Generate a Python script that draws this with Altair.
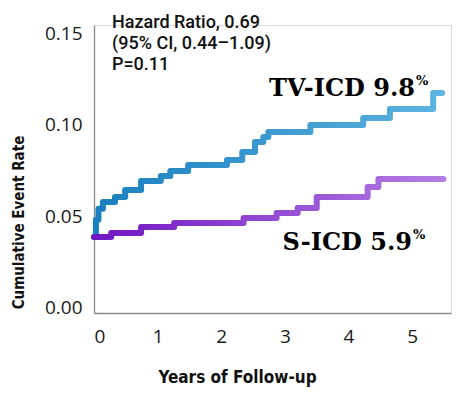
import altair as alt
import pandas as pd

# ---- data ----
tv_years = [0.0, 0.03, 0.07, 0.14, 0.33, 0.49, 0.74, 1.05, 1.20, 1.48, 2.09, 2.33, 2.53, 2.66, 2.74, 3.40, 4.23, 4.65, 5.33, 5.47]
tv_rate = [0.0386, 0.048, 0.054, 0.0577, 0.0605, 0.0643, 0.0692, 0.0720, 0.0747, 0.0780, 0.0807, 0.0851, 0.0906, 0.0933, 0.0960, 0.0999, 0.1037, 0.1086, 0.1174, 0.1174]

s_years = [0.0, 0.27, 0.74, 1.26, 2.35, 2.87, 3.20, 3.50, 4.30, 4.47, 5.49]
s_rate = [0.0386, 0.0408, 0.0441, 0.0462, 0.0490, 0.0517, 0.0545, 0.0605, 0.0660, 0.0703, 0.0703]

y_ticks = [0.0, 0.05, 0.10, 0.15]
x_ticks = [0, 1, 2, 3, 4, 5]
stats_lines = ["Hazard Ratio, 0.69", "(95% CI, 0.44\u20131.09)", "P=0.11"]
tv_label = "TV-ICD 9.8"
s_label = "S-ICD 5.9"
pct = "%"

tv_df = pd.DataFrame({"year": tv_years, "rate": tv_rate})
s_df = pd.DataFrame({"year": s_years, "rate": s_rate})

FONT_AX = "Open Sans"
FONT_T = "Liberation Sans Narrow, DejaVu Sans Condensed, Roboto"

x_scale = alt.Scale(domain=[0, 5.61], nice=False)
y_scale = alt.Scale(domain=[-0.003, 0.1546], nice=False)

x_enc = alt.X("year:Q", scale=x_scale,
              axis=alt.Axis(values=x_ticks, format="d", title="Years of Follow-up",
                            grid=False, ticks=False, domainColor="#8a8a8a", domainWidth=1.3,
                            labelFont=FONT_AX, labelFontSize=19, labelColor="#1a1a1a", labelPadding=14,
                            titleFont=FONT_T, titleFontSize=17, titleFontWeight="bold",
                            titleColor="#111", titleX=143, titleY=64, titleAlign="center",
                            titleBaseline="middle"))
y_enc = alt.Y("rate:Q", scale=y_scale,
              axis=alt.Axis(values=y_ticks, format=".2f", title="Cumulative Event Rate",
                            grid=False, ticks=False, domainColor="#8a8a8a", domainWidth=1.3,
                            labelFont=FONT_AX, labelFontSize=19, labelColor="#1a1a1a", labelPadding=12,
                            titleFont=FONT_T, titleFontSize=15, titleFontWeight="bold",
                            titleColor="#111", titleAngle=270, titleAlign="center",
                            titleBaseline="middle", titleX=-76, titleY=197))

blue_grad = alt.Gradient(gradient="linear", x1=0, x2=1, y1=0, y2=0,
                         stops=[alt.GradientStop(color="#1a7fbf", offset=0),
                                alt.GradientStop(color="#5cb4e0", offset=1)])
purple_grad = alt.Gradient(gradient="linear", x1=0, x2=1, y1=0, y2=0,
                           stops=[alt.GradientStop(color="#7116c4", offset=0),
                                  alt.GradientStop(color="#b47ee2", offset=1)])

tv_line = alt.Chart(tv_df).mark_line(interpolate="step-after", strokeWidth=6,
                                     stroke=blue_grad, strokeCap="round", strokeJoin="round").encode(x=x_enc, y=y_enc)
s_line = alt.Chart(s_df).mark_line(interpolate="step-after", strokeWidth=6,
                                   stroke=purple_grad, strokeCap="round", strokeJoin="round").encode(x="year:Q", y="rate:Q")

stats = alt.Chart(pd.DataFrame({"t": [0]})).mark_text(
    align="left", baseline="alphabetic", font="Roboto", fontWeight=500, fontSize=18,
    lineHeight=21, color="#111").encode(x=alt.value(18), y=alt.value(3), text=alt.value(stats_lines))

tv_txt = alt.Chart(pd.DataFrame({"t": [0]})).mark_text(
    align="right", baseline="alphabetic", font="DejaVu Serif", fontWeight="bold", fontSize=24,
    color="#000").encode(x=alt.value(321), y=alt.value(71), text=alt.value(tv_label))
tv_pct = alt.Chart(pd.DataFrame({"t": [0]})).mark_text(
    align="left", baseline="alphabetic", font="DejaVu Serif", fontWeight="bold", fontSize=13,
    color="#000").encode(x=alt.value(322), y=alt.value(60), text=alt.value(pct))
s_txt = alt.Chart(pd.DataFrame({"t": [0]})).mark_text(
    align="right", baseline="alphabetic", font="DejaVu Serif", fontWeight="bold", fontSize=24,
    color="#000").encode(x=alt.value(318), y=alt.value(225), text=alt.value(s_label))
s_pct = alt.Chart(pd.DataFrame({"t": [0]})).mark_text(
    align="left", baseline="alphabetic", font="DejaVu Serif", fontWeight="bold", fontSize=13,
    color="#000").encode(x=alt.value(319), y=alt.value(214), text=alt.value(pct))

chart = alt.layer(tv_line, s_line, stats, tv_txt, tv_pct, s_txt, s_pct).properties(
    width=357, height=288,
    autosize=alt.AutoSizeParams(type="none"),
    padding={"left": 86, "top": 17, "right": 10, "bottom": 82},
).configure_view(stroke=None).configure(background="white")

chart.save("out.html", embed_options={"renderer": "svg", "actions": False})
